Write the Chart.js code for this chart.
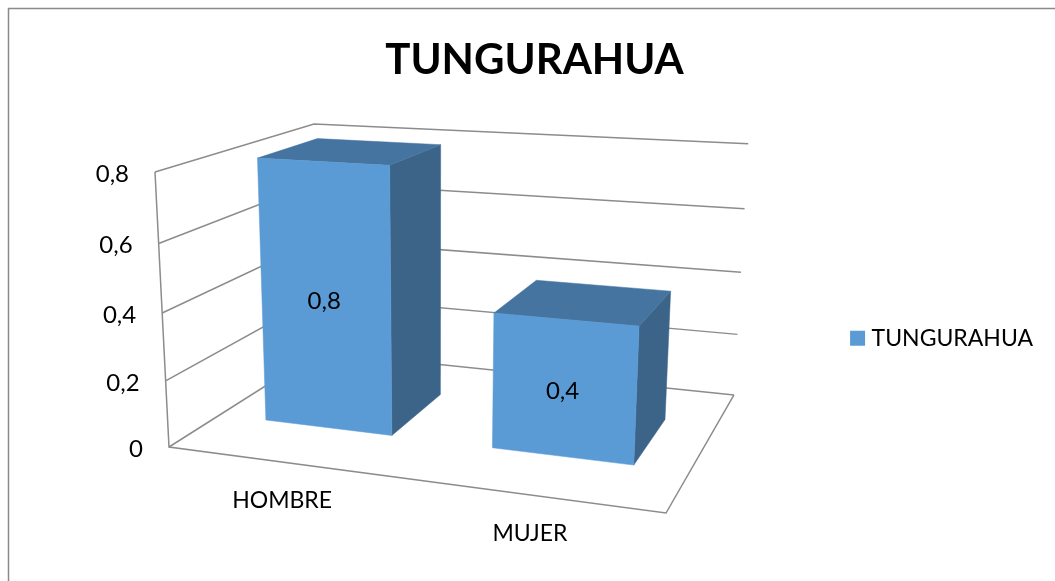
<!DOCTYPE html>
<html><head><meta charset="utf-8">
<style>html,body{margin:0;padding:0;background:#fff}#w{width:1055px;height:581px}</style>
<script src="https://cdn.jsdelivr.net/npm/chart.js@4"></script>
</head><body><div id="w"><canvas id="c" width="1055" height="581"></canvas></div>
<script>
const chartTitle = 'TUNGURAHUA';
const categories = ['HOMBRE', 'MUJER'];
const seriesName = 'TUNGURAHUA';
const seriesValues = [0.8, 0.4];
const axisMax = 0.8;
const axisStep = 0.2;
const FONT = 'Lato, "Open Sans", sans-serif';
const comma = v => String(Number(Number(v).toFixed(1))).replace('.', ',');

// Projective camera of the 3D box: unit-cube corners on the canvas and their weights.
const O = [169, 447], X = [666, 513], Y = [155, 172], Z = [319, 352];
const WX = 0.884, WY = 0.95, WZ = 1.2166;
const DEPTH_FRONT = 0.3, DEPTH_BACK = 0.7;
function proj(u, v, d) {
  const w = 1 + u * (WX - 1) + v * (WY - 1) + d * (WZ - 1);
  const f = i => O[i] + u * (WX * X[i] - O[i]) + v * (WY * Y[i] - O[i]) + d * (WZ * Z[i] - O[i]);
  return [f(0) / w, f(1) / w];
}
function poly(ctx, pts, color) {
  ctx.beginPath();
  pts.forEach((p, i) => i ? ctx.lineTo(p[0], p[1]) : ctx.moveTo(p[0], p[1]));
  ctx.closePath();
  ctx.fillStyle = color;
  ctx.fill();
  ctx.strokeStyle = color;
  ctx.lineWidth = 0.5;
  ctx.stroke();
}
function path(ctx, pts) {
  ctx.beginPath();
  pts.forEach((p, i) => i ? ctx.lineTo(p[0], p[1]) : ctx.moveTo(p[0], p[1]));
  ctx.stroke();
}
const box3d = {
  id: 'box3d',
  beforeDraw(chart) {
    const ctx = chart.ctx;
    ctx.save();
    ctx.strokeStyle = '#8a8a8a';
    ctx.lineWidth = 1.5;
    path(ctx, [[8.5, 581], [8.5, 8.5], [1055, 8.5]]);
    ctx.restore();
  },
  beforeDatasetDraw(chart, args) {
    const ctx = chart.ctx, xs = chart.scales.x, ys = chart.scales.y;
    const nu = px => (px - xs.left) / xs.width;
    const nv = py => (ys.bottom - py) / ys.height;
    ctx.save();
    // walls and floor
    ctx.strokeStyle = '#8c8c8c';
    ctx.lineWidth = 1.5;
    ys.ticks.forEach((t, i) => {
      const v = nv(ys.getPixelForTick(i));
      path(ctx, [proj(0, v, 0), proj(0, v, 1), proj(1, v, 1)]);
    });
    path(ctx, [proj(0, 1, 0), proj(0, 0, 0), proj(1, 0, 0), proj(1, 0, 1)]);
    // bars
    const meta = chart.getDatasetMeta(args.index);
    const rects = meta.data.map((b, i) => {
      const p = b.getProps(['x', 'y', 'base', 'width'], true);
      return { i, l: nu(p.x - p.width / 2), r: nu(p.x + p.width / 2), t: nv(p.y), b: nv(p.base) };
    });
    const C = chart.data.datasets[args.index].backgroundColor;
    rects.forEach(q => {
      const d0 = DEPTH_FRONT, d1 = DEPTH_BACK;
      poly(ctx, [proj(q.r, q.b, d0), proj(q.r, q.b, d1), proj(q.r, q.t, d1), proj(q.r, q.t, d0)], '#3b6488');
      poly(ctx, [proj(q.l, q.t, d0), proj(q.l, q.t, d1), proj(q.r, q.t, d1), proj(q.r, q.t, d0)], '#44749f');
      poly(ctx, [proj(q.l, q.b, d0), proj(q.r, q.b, d0), proj(q.r, q.t, d0), proj(q.l, q.t, d0)], C);
    });
    // value labels on the bars
    ctx.fillStyle = '#000';
    ctx.font = '24px ' + FONT;
    ctx.textAlign = 'center';
    ctx.textBaseline = 'middle';
    rects.forEach(q => {
      const p = proj((q.l + q.r) / 2, (q.t + q.b) / 2, DEPTH_FRONT);
      ctx.fillText(comma(seriesValues[q.i]), p[0] - 1, p[1] + 3);
    });
    // value axis labels follow the left wall
    ctx.textAlign = 'right';
    ys.ticks.forEach((t, i) => {
      const p = proj(0, nv(ys.getPixelForTick(i)), 0);
      ctx.fillText(t.label, p[0] - 26, p[1] + 2);
    });
    // category labels follow the front edge
    ctx.font = '23px ' + FONT;
    ctx.textAlign = 'center';
    xs.ticks.forEach((t, i) => {
      const p = proj(nu(xs.getPixelForTick(i)), 0, 0);
      ctx.fillText(xs.getLabelForValue(t.value), p[0], p[1] + 39);
    });
    ctx.restore();
    return false; // the projected bars replace the flat ones
  }
};
new Chart(document.getElementById('c'), {
  type: 'bar',
  plugins: [box3d],
  data: {
    labels: categories,
    datasets: [{ label: seriesName, data: seriesValues, backgroundColor: '#5b9bd5',
      categoryPercentage: 0.57, barPercentage: 1 }]
  },
  options: {
    responsive: false,
    animation: false,
    layout: { padding: { left: 26, right: 12, top: 31, bottom: 0 } },
    plugins: {
      tooltip: { enabled: false },
      title: { display: true, text: chartTitle, color: '#000',
        font: { family: FONT, size: 42, weight: 'bold' }, padding: { top: 4, bottom: 10 } },
      legend: { position: 'right', align: 'center', fullSize: false,
        labels: { usePointStyle: true, pointStyle: 'rect', boxWidth: 5, boxHeight: 15, padding: 10, color: '#000',
          font: { family: FONT, size: 23 } } }
    },
    scales: {
      x: { display: false, offset: true },
      y: { display: false, min: 0, max: axisMax,
        ticks: { stepSize: axisStep, callback: v => comma(v) } }
    }
  }
});
</script></body></html>
